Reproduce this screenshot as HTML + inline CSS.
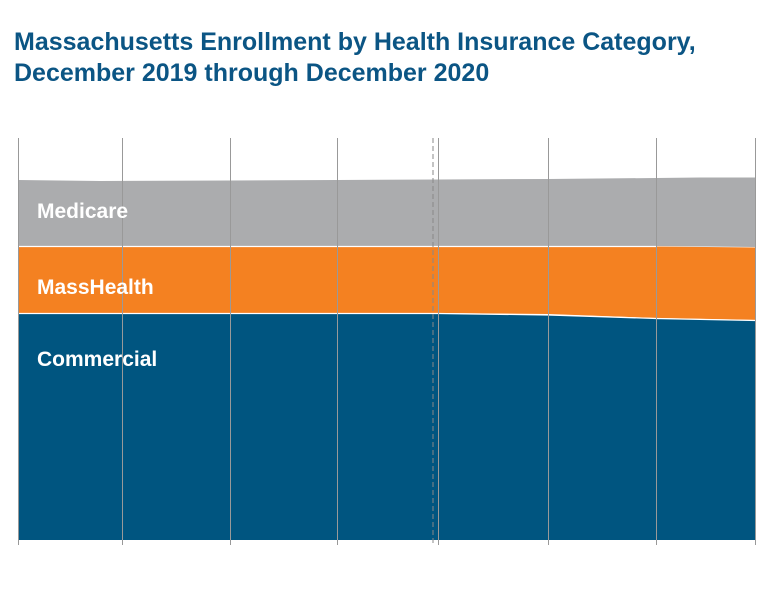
<!DOCTYPE html>
<html><head><style>
body{margin:0;background:#fff;width:780px;height:603px;overflow:hidden}
.t{position:absolute;left:14px;top:27px;font-family:"Liberation Sans Narrow","Liberation Sans",sans-serif;font-weight:bold;font-size:25px;line-height:31px;color:#0b5584;letter-spacing:0px}
</style></head><body>
<div class="t">Massachusetts Enrollment by Health Insurance Category,<br>December 2019 through December 2020</div>
<svg width="780" height="603" style="position:absolute;left:0;top:0">
<polygon points="18,180 100,181 230,180.5 337,180 438,179.5 548,179 656,178 700,177.5 756,177.5 756,247 656,246 18,246" fill="#abacae"/>
<polygon points="18,246.5 656,246.5 756,247.5 756,320 656,318 548,314 438,313 18,313" fill="#f48121"/>
<polygon points="18,313.5 438,313.5 548,315 656,318.5 756,320.5 756,540 18,540" fill="#005580"/>
<line x1="18" y1="246.5" x2="656" y2="246.5" stroke="#fff" stroke-width="1.2"/>
<polyline points="18,313.5 438,313.5 548,315 656,318.5 756,320.5" fill="none" stroke="#fff" stroke-width="1.2"/>
<g stroke="#999" stroke-width="1">
<line x1="18.5" y1="138" x2="18.5" y2="545"/>
<line x1="122.5" y1="138" x2="122.5" y2="545"/>
<line x1="230.5" y1="138" x2="230.5" y2="545"/>
<line x1="337.5" y1="138" x2="337.5" y2="545"/>
<line x1="438.5" y1="138" x2="438.5" y2="545"/>
<line x1="548.5" y1="138" x2="548.5" y2="545"/>
<line x1="656.5" y1="138" x2="656.5" y2="545"/>
<line x1="755.5" y1="138" x2="755.5" y2="545"/>
<line x1="433" y1="138" x2="433" y2="545" stroke-dasharray="5,3" stroke="#888"/>
</g>
<g font-family="Liberation Sans Narrow, Liberation Sans, sans-serif" font-weight="bold" font-size="21" fill="#fff">
<text x="37" y="218">Medicare</text>
<text x="37" y="294">MassHealth</text>
<text x="37" y="366">Commercial</text>
</g>
</svg>
</body></html>
